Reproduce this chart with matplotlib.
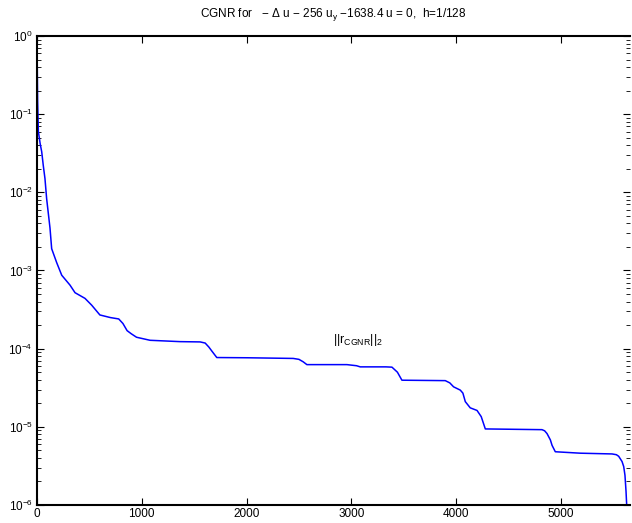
import numpy as np
import matplotlib
matplotlib.use("Agg")
import matplotlib.pyplot as plt
from matplotlib.ticker import LogLocator, FixedLocator, NullFormatter

plt.rcParams['font.family'] = ['Liberation Sans', 'DejaVu Sans']
plt.rcParams['mathtext.fontset'] = 'custom'
plt.rcParams['mathtext.rm'] = 'Liberation Sans'
plt.rcParams['mathtext.it'] = 'Liberation Sans:italic'
plt.rcParams['mathtext.bf'] = 'Liberation Sans:bold'

# iteration number and residual norm
iters = [0, 3, 6, 13, 30, 45, 60, 76, 92, 124, 140, 188, 236, 315, 363, 458, 522,
         600, 700, 780, 820, 860, 900, 950, 1079, 1366, 1557, 1605, 1640, 1668, 1716,
         2003, 2446, 2500, 2540, 2576, 2958, 3050, 3085, 3181, 3330, 3388, 3440, 3483,
         3897, 3940, 3976, 4040, 4065, 4088, 4135, 4200, 4240, 4279, 4820, 4845, 4868,
         4900, 4916, 4947, 5186, 5489, 5530, 5552, 5584, 5600, 5612, 5622, 5630]
resid = [1.0, 0.35, 0.15, 0.06, 0.042, 0.033, 0.022, 0.015, 0.0083, 0.0035, 0.0019,
         0.00126, 0.00087, 0.00065, 0.00052, 0.00044, 0.00036, 0.00027, 0.00025,
         0.00024, 0.00021, 0.00017, 0.000155, 0.00014, 0.000128, 0.000123, 0.000122,
         0.000118, 0.000105, 0.0000935, 0.000077, 0.0000765, 0.000075, 0.000073,
         0.000068, 0.0000625, 0.0000625, 0.0000605, 0.0000585, 0.0000585, 0.0000585,
         0.000058, 0.000050, 0.0000395, 0.000039, 0.0000365, 0.0000325, 0.0000295,
         0.000027, 0.000021, 0.0000175, 0.0000162, 0.0000135, 0.0000094, 0.0000092,
         0.0000089, 0.0000082, 0.0000068, 0.0000058, 0.0000048, 0.0000046, 0.0000045,
         0.0000044, 0.0000042, 0.0000036, 0.0000031, 0.0000024, 0.0000015, 0.0000009]
xmax = 5660

fig = plt.figure(figsize=(6.32, 5.23), dpi=100)
ax = fig.add_axes([37/632, 18/523, 593/632, 469/523])

ax.semilogy(iters, resid, color='#0000ff', lw=1.1)

ax.set_xlim(0, xmax)
ax.set_ylim(1e-6, 1e0)
ax.xaxis.set_major_locator(FixedLocator([0, 1000, 2000, 3000, 4000, 5000]))
ax.yaxis.set_major_locator(LogLocator(base=10, numticks=10))
ax.yaxis.set_minor_locator(LogLocator(base=10, subs=np.arange(2, 10), numticks=10))
ax.yaxis.set_minor_formatter(NullFormatter())

ax.tick_params(which='both', direction='in', top=True, right=True, labelsize=8.5)
ax.tick_params(which='major', length=5, width=0.8)
ax.tick_params(which='minor', length=3, width=0.6)
ax.tick_params(axis='x', pad=2)
ax.tick_params(axis='y', pad=3)

for s in ['left', 'bottom', 'top']:
    ax.spines[s].set_linewidth(1.5)
ax.spines['right'].set_visible(False)

ax.set_title(r'CGNR for   $-$ $\Delta$ u $-$ 256 u$_{\rm y}$ $-$1638.4 u = 0,  h=1/128',
             fontsize=8.5, pad=14)
ax.text(2830, 1.3e-4, r'||r$_{\rm CGNR}$||$_2$', fontsize=9, va='center', ha='left')

fig.savefig('out.png', dpi=100)
